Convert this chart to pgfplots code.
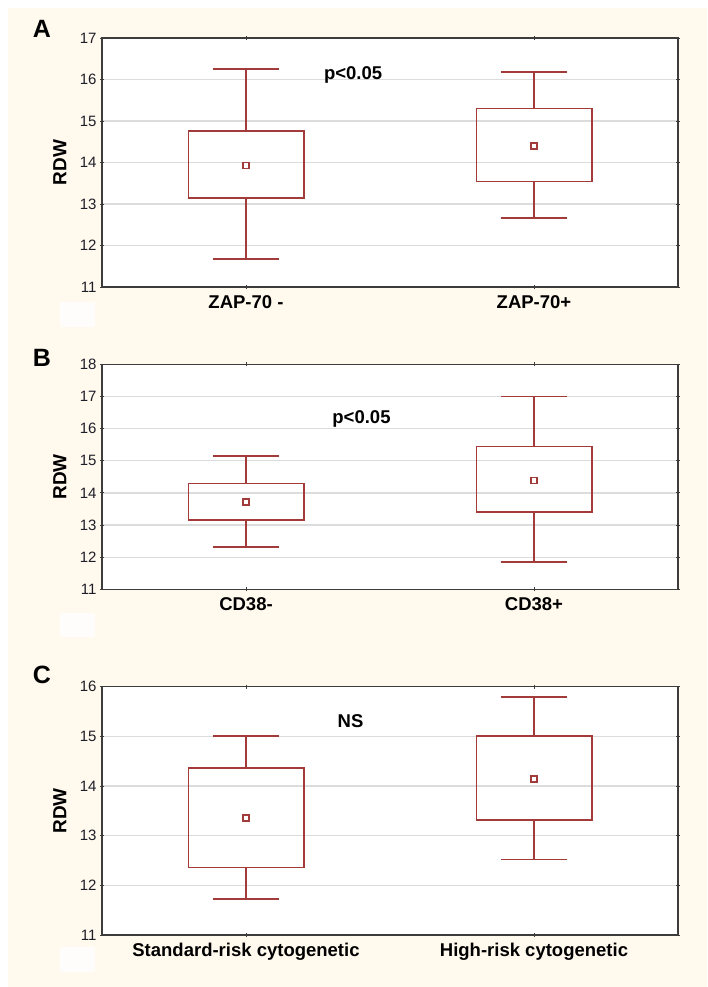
\documentclass[border=0pt]{standalone}
\usepackage{fontspec}
\setmainfont{Liberation Sans}
\usepackage{pgfplots}
\pgfplotsset{compat=1.18}
\definecolor{cream}{HTML}{FFF9EE}
\definecolor{boxred}{HTML}{A33B3B}
\definecolor{framegray}{HTML}{3C3C3C}
\definecolor{gridgray}{HTML}{DCDCDC}
\definecolor{ticktext}{HTML}{1E1E28}
\pgfplotsset{
  panel/.style={
    scale only axis, width=576pt,
    xmin=-0.5, xmax=1.5, xtick={0,1},
    ytick distance=1,
    axis background/.style={fill=white},
    axis line style={framegray, line width=1.5pt},
    ymajorgrids, grid style={gridgray, line width=1.3pt},
    tick style={framegray, line width=0.9pt},
    major tick length=4pt, tick align=center, tick pos=both,
    /pgf/number format/assume math mode=true,
    yticklabel style={font=\fontsize{15}{17}\selectfont, text=ticktext},
    xticklabel style={font=\bfseries\fontsize{18.5}{20}\selectfont, text=black, yshift=-3pt},
    ylabel={RDW},
    ylabel style={at={(rel axis cs:-0.073,0.5)}, anchor=center, font=\bfseries\fontsize{19}{21}\selectfont},
  },
  bc/.style={draw=boxred, line width=1.8pt, mark=none, line join=miter},
  mn/.style={draw=boxred, only marks, mark=square, mark size=3pt, mark options={line width=1.5pt, fill=white, draw=boxred}},
}
\begin{document}
\begin{tikzpicture}[x=1pt,y=1pt]
\useasboundingbox (0,0) rectangle (707,987);
\fill[white] (0,0) rectangle (707,987);
\fill[cream] (8,0) rectangle (707,979);
\fill[white, opacity=0.8] (60,660) rectangle (95,685);
\fill[white, opacity=0.8] (60,350) rectangle (95,374);
\fill[white, opacity=0.8] (60,15) rectangle (95,40);
\node[font=\bfseries\fontsize{25}{27}\selectfont, inner sep=0] at (42,958) {A};
\node[font=\bfseries\fontsize{25}{27}\selectfont, inner sep=0] at (42,629) {B};
\node[font=\bfseries\fontsize{25}{27}\selectfont, inner sep=0] at (42,312) {C};

% Panel A
\begin{axis}[panel, at={(102pt,700pt)}, anchor=south west, height=249pt,
  ymin=11, ymax=17, xticklabels={ZAP-70 -, ZAP-70+}]
\addplot[bc] coordinates {(-0.2,13.15) (0.2,13.15) (0.2,14.76) (-0.2,14.76) (-0.2,13.15)};
\addplot[bc] coordinates {(0,14.76) (0,16.25)};
\addplot[bc] coordinates {(0,13.15) (0,11.67)};
\addplot[bc] coordinates {(-0.115,16.25) (0.115,16.25)};
\addplot[bc] coordinates {(-0.115,11.67) (0.115,11.67)};
\addplot[mn] coordinates {(0,13.93)};
\addplot[bc] coordinates {(0.8,13.54) (1.2,13.54) (1.2,15.30) (0.8,15.30) (0.8,13.54)};
\addplot[bc] coordinates {(1,15.30) (1,16.18)};
\addplot[bc] coordinates {(1,13.54) (1,12.66)};
\addplot[bc] coordinates {(0.885,16.18) (1.115,16.18)};
\addplot[bc] coordinates {(0.885,12.66) (1.115,12.66)};
\addplot[mn] coordinates {(1,14.40)};
\node[font=\bfseries\fontsize{18.5}{20}\selectfont, anchor=base] at (axis cs:0.372,15.99) {p<0.05};
\end{axis}

% Panel B
\begin{axis}[panel, at={(102pt,397.7pt)}, anchor=south west, height=225pt,
  ymin=11, ymax=18, xticklabels={CD38-, CD38+}]
\addplot[bc] coordinates {(-0.2,13.16) (0.2,13.16) (0.2,14.29) (-0.2,14.29) (-0.2,13.16)};
\addplot[bc] coordinates {(0,14.29) (0,15.15)};
\addplot[bc] coordinates {(0,13.16) (0,12.31)};
\addplot[bc] coordinates {(-0.115,15.15) (0.115,15.15)};
\addplot[bc] coordinates {(-0.115,12.31) (0.115,12.31)};
\addplot[mn] coordinates {(0,13.72)};
\addplot[bc] coordinates {(0.8,13.41) (1.2,13.41) (1.2,15.44) (0.8,15.44) (0.8,13.41)};
\addplot[bc] coordinates {(1,15.44) (1,17.00)};
\addplot[bc] coordinates {(1,13.41) (1,11.85)};
\addplot[bc] coordinates {(0.885,17.00) (1.115,17.00)};
\addplot[bc] coordinates {(0.885,11.85) (1.115,11.85)};
\addplot[mn] coordinates {(1,14.38)};
\node[font=\bfseries\fontsize{18.5}{20}\selectfont, anchor=base] at (axis cs:0.401,16.17) {p<0.05};
\end{axis}

% Panel C
\begin{axis}[panel, at={(102pt,52pt)}, anchor=south west, height=248.3pt,
  ymin=11, ymax=16, xticklabels={Standard-risk cytogenetic, High-risk cytogenetic}]
\addplot[bc] coordinates {(-0.2,12.36) (0.2,12.36) (0.2,14.36) (-0.2,14.36) (-0.2,12.36)};
\addplot[bc] coordinates {(0,14.36) (0,15.01)};
\addplot[bc] coordinates {(0,12.36) (0,11.72)};
\addplot[bc] coordinates {(-0.115,15.01) (0.115,15.01)};
\addplot[bc] coordinates {(-0.115,11.72) (0.115,11.72)};
\addplot[mn] coordinates {(0,13.36)};
\addplot[bc] coordinates {(0.8,13.32) (1.2,13.32) (1.2,15.00) (0.8,15.00) (0.8,13.32)};
\addplot[bc] coordinates {(1,15.00) (1,15.80)};
\addplot[bc] coordinates {(1,13.32) (1,12.52)};
\addplot[bc] coordinates {(0.885,15.80) (1.115,15.80)};
\addplot[bc] coordinates {(0.885,12.52) (1.115,12.52)};
\addplot[mn] coordinates {(1,14.14)};
\node[font=\bfseries\fontsize{18.5}{20}\selectfont, anchor=base] at (axis cs:0.363,15.17) {NS};
\end{axis}
\end{tikzpicture}
\end{document}
